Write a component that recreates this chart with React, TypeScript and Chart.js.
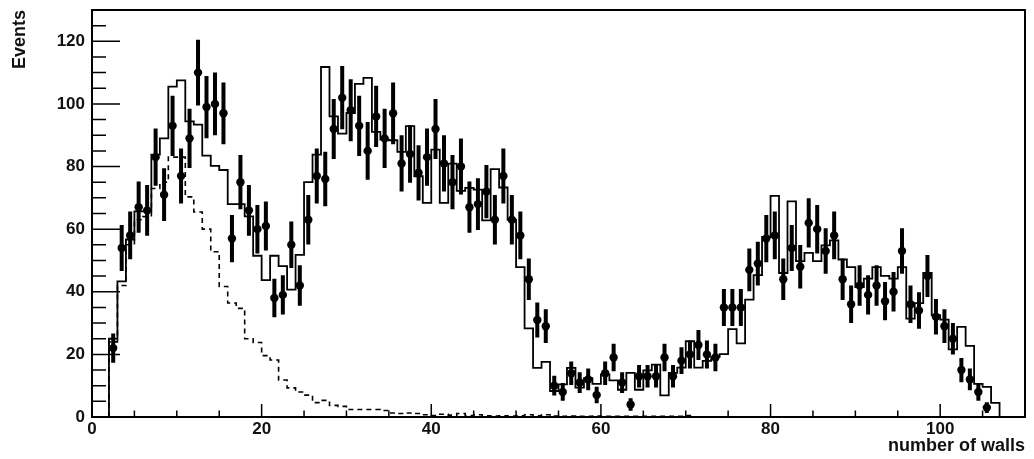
import React, { useEffect, useRef } from "react";
import { Chart, registerables } from "chart.js";

Chart.register(...registerables);

// ---- data (bins of width 1, first bin low edge = 2) ----
const FIRST_BIN = 2;

// measured events per bin (points with Poisson error bars), bins 2..105
const eventCounts = [
  22, 54, 58, 67, 66, 83, 71, 93, 77, 89,
  110, 99, 100, 97, 57, 75, 66, 60, 61, 38,
  39, 55, 42, 63, 77, 76, 92, 102, 98, 93,
  85, 96, 89, 97, 81, 84, 78, 83, 92, 81,
  75, 80, 67, 68, 72, 63, 77, 63, 58, 44,
  31, 29, 10, 8, 14, 11, 12, 7, 14, 19,
  11, 4, 13, 13, 13, 19, 13, 18, 20, 23,
  20, 19, 35, 35, 35, 47, 49, 57, 58, 44,
  54, 48, 62, 60, 53, 58, 44, 36, 42, 39,
  42, 37, 40, 53, 36, 34, 45, 32, 29, 25,
  15, 12, 8, 3,
];

// total simulation (solid step histogram), bins 2..106
const simTotal = [
  25, 43.3, 56.7, 65.7, 65.7, 83.8, 89, 105.5, 107.5, 94.4,
  93.4, 83.5, 80.2, 78.9, 68, 68, 64.1, 51.5, 43.7, 51.5,
  48.2, 40.7, 51.8, 75, 83.8, 111.8, 96, 90.5, 97.1, 106.4,
  108.3, 91.1, 88.6, 88.4, 84.7, 92.9, 76.9, 68.4, 85.4, 68.4,
  80.9, 72.2, 73.2, 72.6, 62.8, 79.2, 73.3, 63, 47.9, 28.3,
  15.7, 17.6, 8.3, 10.4, 15.7, 9.4, 12.4, 10.6, 13.6, 11.7,
  8.7, 14.1, 8.7, 14.9, 16.7, 6.9, 14.1, 15.8, 24.2, 15.8,
  17.9, 19.2, 20.1, 28.1, 23.5, 37.5, 45.3, 57.5, 70.6, 46,
  68.9, 49.8, 52.4, 49.8, 54.8, 56.4, 50.3, 47.9, 41.5, 44.2,
  47.9, 45.1, 44.2, 47.9, 31.4, 36.4, 46, 32.5, 31.1, 21.6,
  28.8, 22.7, 10.6, 9.6, 4.5,
];

// simulated component (dashed step histogram), bins 2..70
const simComponent = [
  24, 42, 55, 63, 64, 73, 75, 83, 83, 70.3,
  65.5, 60, 52.8, 41.7, 36.4, 34.7, 25, 23.8, 19.6, 18.2,
  11.8, 9.3, 8, 7, 4.6, 5.3, 3.7, 3.4, 2.4, 2.4,
  2.4, 2.4, 2.1, 1.3, 1.1, 1.3, 1.1, 0.7, 0.5, 0.9,
  0.6, 1.1, 0.5, 0.7, 0.4, 0.3, 0.4, 0.3, 0.4, 0.7,
  0.4, 0.7, 0.3, 0.2, 0.3, 0.2, 0.2, 0.3, 0.2, 0.2,
  0.2, 0.2, 0.2, 0.2, 0.2, 0.2, 0.2, 0.2, 0.5,
];

const xTickValues = [0, 20, 40, 60, 80, 100];
const yTickValues = [0, 20, 40, 60, 80, 100, 120];
const X_MIN = 0;
const X_MAX = 110;
const Y_MIN = 0;
const Y_MAX = 130;
const MINOR_STEP = 5;

const xTitle = "number of walls";
const yTitle = "Events";

// ---- helpers building library data from the arrays ----
function stepPoints(values: number[], start: number) {
  const pts: { x: number; y: number }[] = [{ x: start, y: 0 }];
  values.forEach((v, i) => {
    pts.push({ x: start + i, y: v });
    pts.push({ x: start + i + 1, y: v });
  });
  pts.push({ x: start + values.length, y: 0 });
  return pts;
}

function errorBarPoints(values: number[], start: number) {
  const pts: { x: number; y: number | null }[] = [];
  values.forEach((v, i) => {
    const c = start + i + 0.5;
    const e = Math.sqrt(v);
    pts.push({ x: c, y: v - e });
    pts.push({ x: c, y: v + e });
    pts.push({ x: c, y: null });
  });
  return pts;
}

function markerPoints(values: number[], start: number) {
  return values.map((v, i) => ({ x: start + i + 0.5, y: v }));
}

const FONT = "'Liberation Sans', Arial, Helvetica, sans-serif";

const frameTicksPlugin = {
  id: "frameTicks",
  afterDatasetsDraw(chart: any) {
    const { ctx, chartArea, scales } = chart;
    const xs = scales.x;
    const ys = scales.y;
    ctx.save();
    ctx.strokeStyle = "#000";
    ctx.lineWidth = 2;
    ctx.strokeRect(chartArea.left, chartArea.top, chartArea.right - chartArea.left, chartArea.bottom - chartArea.top);
    ctx.lineWidth = 1.5;
    ctx.beginPath();
    for (let v = X_MIN; v <= X_MAX; v += MINOR_STEP) {
      const px = xs.getPixelForValue(v);
      const len = xTickValues.includes(v) ? 13 : 6.5;
      ctx.moveTo(px, chartArea.bottom);
      ctx.lineTo(px, chartArea.bottom - len);
    }
    for (let v = Y_MIN; v <= Y_MAX; v += MINOR_STEP) {
      const py = ys.getPixelForValue(v);
      const len = yTickValues.includes(v) ? 28 : 14;
      ctx.moveTo(chartArea.left, py);
      ctx.lineTo(chartArea.left + len, py);
    }
    ctx.stroke();
    ctx.restore();
  },
};

export default function App() {
  const canvasRef = useRef<HTMLCanvasElement | null>(null);

  useEffect(() => {
    if (!canvasRef.current) return;
    const lineBase = {
      type: "line" as const,
      borderColor: "#000",
      pointRadius: 0,
      tension: 0,
      fill: false,
      spanGaps: false,
    };
    const chart = new Chart(canvasRef.current, {
      type: "line",
      data: {
        datasets: [
          { ...lineBase, label: "total", data: stepPoints(simTotal, FIRST_BIN), borderWidth: 1.8 },
          { ...lineBase, label: "component", data: stepPoints(simComponent, FIRST_BIN), borderWidth: 1.6, borderDash: [5, 4] },
          { ...lineBase, label: "errors", data: errorBarPoints(eventCounts, FIRST_BIN), borderWidth: 4, borderCapStyle: "butt" },
          {
            type: "scatter" as const,
            label: "data",
            data: markerPoints(eventCounts, FIRST_BIN),
            pointRadius: 4.2,
            pointBackgroundColor: "#000",
            pointBorderColor: "#000",
            pointBorderWidth: 0,
            showLine: false,
          },
        ] as any,
      },
      options: {
        animation: false,
        responsive: true,
        maintainAspectRatio: false,
        layout: { padding: { left: 0, right: 9, top: 10, bottom: 0 } },
        plugins: { legend: { display: false }, tooltip: { enabled: false } },
        scales: {
          x: {
            type: "linear",
            min: X_MIN,
            max: X_MAX,
            grid: { display: false, drawTicks: false },
            border: { display: false },
            afterFit: (s: any) => { s.height = 42; s.paddingLeft = 0; s.paddingRight = 0; },
            afterBuildTicks: (s: any) => { s.ticks = xTickValues.map((v) => ({ value: v })); },
            ticks: {
              font: { family: FONT, size: 17, weight: "bold" },
              color: "#111",
              padding: 2,
              maxRotation: 0,
              autoSkip: false,
            },
            title: {
              display: true,
              text: xTitle,
              align: "end",
              font: { family: FONT, size: 18, weight: "bold" },
              color: "#111",
              padding: { top: 0, bottom: 2 },
            },
          },
          y: {
            type: "linear",
            min: Y_MIN,
            max: Y_MAX,
            grid: { display: false, drawTicks: false },
            border: { display: false },
            afterFit: (s: any) => { s.width = 92; s.paddingTop = 0; s.paddingBottom = 0; },
            afterBuildTicks: (s: any) => { s.ticks = yTickValues.map((v) => ({ value: v })); },
            ticks: {
              font: { family: FONT, size: 17, weight: "bold" },
              color: "#111",
              padding: 7,
            },
            title: {
              display: true,
              text: yTitle,
              align: "end",
              font: { family: FONT, size: 18, weight: "bold" },
              color: "#111",
              padding: { top: 9, bottom: 0 },
            },
          },
        },
      } as any,
      plugins: [frameTicksPlugin],
    });
    return () => chart.destroy();
  }, []);

  return (
    <div style={{ position: "absolute", left: 0, top: 0, width: 1034, height: 459, background: "#fff" }}>
      <canvas ref={canvasRef} />
    </div>
  );
}
